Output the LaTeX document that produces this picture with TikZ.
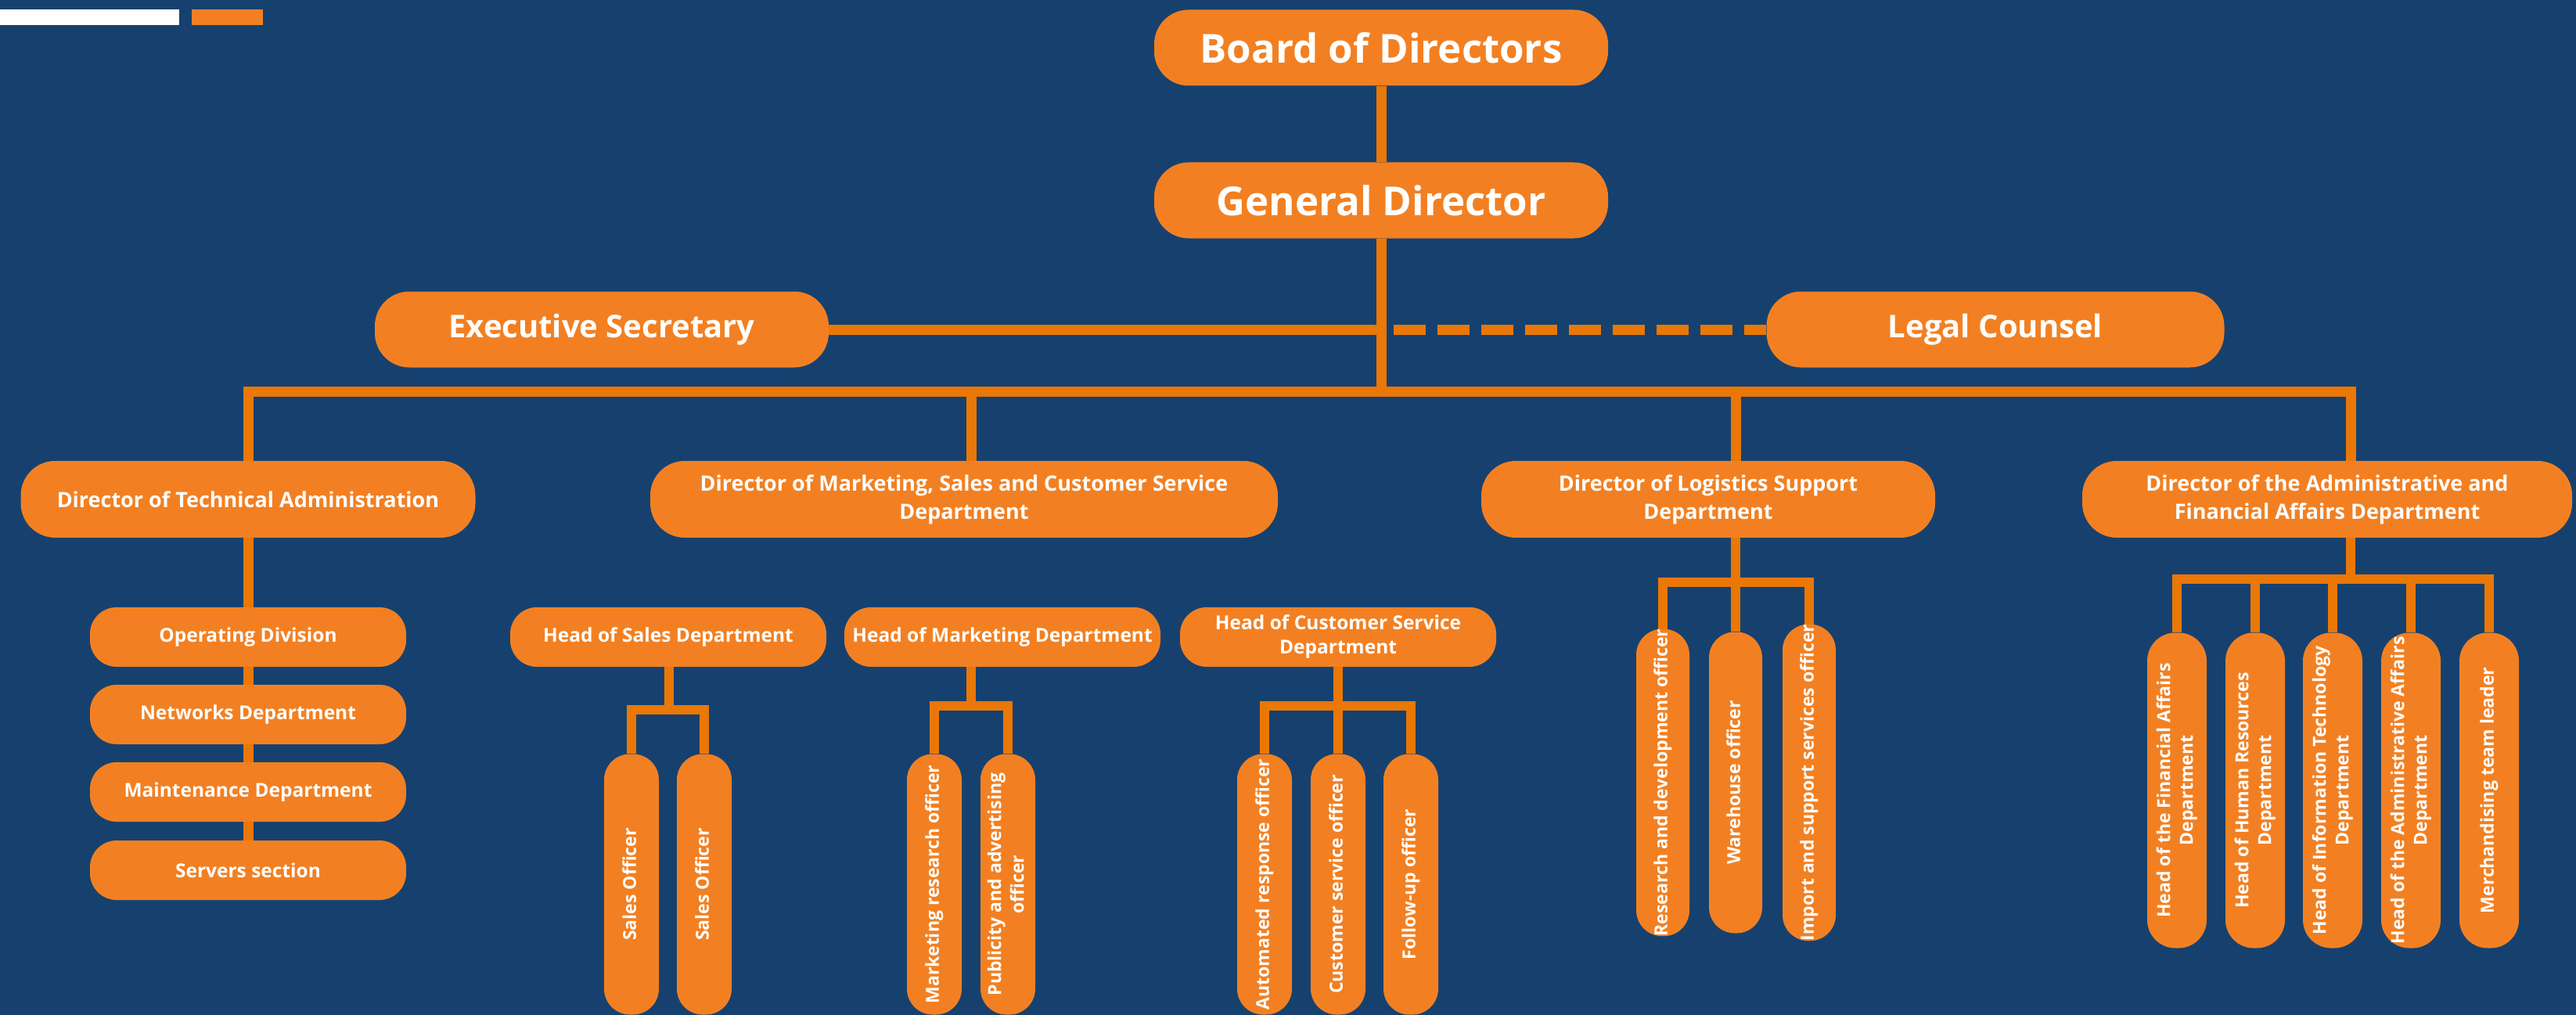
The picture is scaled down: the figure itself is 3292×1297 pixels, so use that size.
\documentclass[tikz,border=0pt]{standalone}
\usepackage{fontspec}
\setmainfont{Open Sans}
\usetikzlibrary{calc}

\definecolor{bgblue}{HTML}{16416F}
\definecolor{boxorange}{HTML}{F28022}
\definecolor{lineorange}{HTML}{EA7706}

\tikzset{
    box/.style={fill=boxorange, text=white, inner sep=0pt, align=center},
    topbox/.style={box, minimum width=580pt, minimum height=97pt, rounded corners=44pt,
        font=\fontsize{51}{60}\selectfont\bfseries},
    sidebox/.style={box, minimum width=580pt, minimum height=97pt, rounded corners=44pt,
        font=\fontsize{40}{48}\selectfont\bfseries},
    dirbox/.style={box, minimum height=98pt, rounded corners=44pt,
        font=\fontsize{27}{36}\selectfont\bfseries},
    headbox/.style={box, minimum width=404pt, minimum height=76pt, rounded corners=34pt,
        font=\fontsize{24.5}{31}\selectfont\bfseries},
    offbox/.style={box, minimum width=70pt, minimum height=333pt, rounded corners=33pt,
        font=\fontsize{23}{29}\selectfont\bfseries},
    link/.style={draw=lineorange, line width=13pt},
    fork/.style={draw=lineorange, line width=12pt}
}

\begin{document}
\begin{tikzpicture}[x=1pt, y=-1pt]

    % sfondo e barrette in alto a sinistra
    \fill[bgblue] (0,0) rectangle (3292,1297);
    \useasboundingbox (0,0) rectangle (3292,1297);
    \fill[white] (0,12) rectangle (229,32);
    \fill[boxorange] (245,12) rectangle (336,32);

    % testo verticale (una o due righe)
    \newcommand{\vlabel}[1]{\rotatebox{90}{\begin{tabular}{@{}c@{}}#1\end{tabular}}}

    % -- Vertice --
    \node[topbox] (board) at (1765,61) {Board of Directors};
    \node[topbox] (gd) at (1765,256) {General Director};
    \node[sidebox] (exec) at (769,421) {Executive Secretary};
    \node[sidebox, minimum width=585pt] (legal) at (2550,421) {Legal Counsel};

    % -- Direttori --
    \node[dirbox, minimum width=581pt] (tech) at (317,638) {Director of Technical Administration};
    \node[dirbox, minimum width=802pt] (mkt) at (1232,638) {Director of Marketing, Sales and Customer Service\\Department};
    \node[dirbox, minimum width=580pt] (logi) at (2183,638) {Director of Logistics Support\\Department};
    \node[dirbox, minimum width=626pt] (admin) at (2974,638) {Director of the Administrative and\\Financial Affairs Department};

    % -- Amministrazione tecnica --
    \node[headbox] (op) at (317,814) {Operating Division};
    \node[headbox] (net) at (317,913) {Networks Department};
    \node[headbox] (maint) at (317,1012) {Maintenance Department};
    \node[headbox] (serv) at (317,1112) {Servers section};

    % -- Capi reparto marketing --
    \node[headbox] (sales) at (854,814) {Head of Sales Department};
    \node[headbox] (mkthead) at (1281,814) {Head of Marketing Department};
    \node[headbox] (cust) at (1710,814) {Head of Customer Service\\Department};

    \node[offbox] (so1) at (807,1130) {\vlabel{Sales Officer}};
    \node[offbox] (so2) at (900,1130) {\vlabel{Sales Officer}};
    \node[offbox] (mo1) at (1194,1130) {\vlabel{Marketing research officer}};
    \node[offbox] (mo2) at (1288,1130) {\vlabel{Publicity and advertising\\officer}};
    \node[offbox] (co1) at (1616,1130) {\vlabel{Automated response officer}};
    \node[offbox] (co2) at (1710,1130) {\vlabel{Customer service officer}};
    \node[offbox] (co3) at (1803,1130) {\vlabel{Follow-up officer}};

    % -- Logistica --
    \node[offbox, minimum width=68pt, minimum height=385pt] (lo1) at (2125,1000) {\vlabel{Research and development officer}};
    \node[offbox, minimum width=68pt, minimum height=385pt] (lo2) at (2218,1000) {\vlabel{Warehouse officer}};
    \node[offbox, minimum width=68pt, minimum height=385pt] (lo3) at (2312,1000) {\vlabel{Import and support services officer}};

    % -- Affari amministrativi e finanziari --
    \node[offbox, minimum width=76pt, minimum height=403pt, rounded corners=36pt] (ad1) at (2782,1010) {\vlabel{Head of the Financial Affairs\\Department}};
    \node[offbox, minimum width=76pt, minimum height=403pt, rounded corners=36pt] (ad2) at (2882,1010) {\vlabel{Head of Human Resources\\Department}};
    \node[offbox, minimum width=76pt, minimum height=403pt, rounded corners=36pt] (ad3) at (2981,1010) {\vlabel{Head of Information Technology\\Department}};
    \node[offbox, minimum width=76pt, minimum height=403pt, rounded corners=36pt] (ad4) at (3081,1010) {\vlabel{Head of the Administrative Affairs\\Department}};
    \node[offbox, minimum width=76pt, minimum height=403pt, rounded corners=36pt] (ad5) at (3181,1010) {\vlabel{Merchandising team leader}};

    % punti di aggancio
    \coordinate (bus) at (0,500);
    \coordinate (mktstem) at (1241,500);
    \coordinate (logstem) at (2218,500);
    \coordinate (admstem) at (3004,500);
    \coordinate (salesbar) at (855,907);
    \coordinate (mktbar) at (1241,902);
    \coordinate (custbar) at (1710,902);
    \coordinate (logbar) at (2218,744);
    \coordinate (admbar) at (3004,740);

    % -- Collegamenti --
    \draw[link] (board) -- (gd);
    \draw[link] (gd.south) -- (gd.south |- bus);
    \draw[link] (exec.east) -- (exec.east -| gd.south);
    \draw[link, dash pattern=on 41pt off 15pt] ($(gd.south |- legal.west)+(16,0)$) -- (legal.west);

    \draw[link] (tech.north) |- (admstem) -- (admstem |- admin.north);
    \draw[link] (mktstem) -- (mktstem |- mkt.north);
    \draw[link] (logstem) -- (logstem |- logi.north);

    \draw[link] (tech) -- (op);
    \draw[link] (op) -- (net);
    \draw[link] (net) -- (maint);
    \draw[link] (maint) -- (serv);

    \draw[fork] (salesbar |- sales.south) -- (salesbar);
    \draw[fork] (so1.north) |- (salesbar) -| (so2.north);

    \draw[fork] (mktbar |- mkthead.south) -- (mktbar);
    \draw[fork] (mo1.north) |- (mktbar) -| (mo2.north);

    \draw[fork] (cust.south) -- (custbar);
    \draw[fork] (co1.north) |- (custbar) -| (co3.north);
    \draw[fork] (co2.north) -- (custbar);

    \draw[fork] (logbar |- logi.south) -- (logbar);
    \draw[fork] (lo1.north) |- (logbar) -| (lo3.north);
    \draw[fork] (lo2.north) -- (logbar);

    \draw[fork] (admbar |- admin.south) -- (admbar);
    \draw[fork] (ad1.north) |- (admbar) -| (ad5.north);
    \draw[fork] (ad2.north) -- (ad2.north |- admbar);
    \draw[fork] (ad3.north) -- (ad3.north |- admbar);
    \draw[fork] (ad4.north) -- (ad4.north |- admbar);
\end{tikzpicture}
\end{document}
